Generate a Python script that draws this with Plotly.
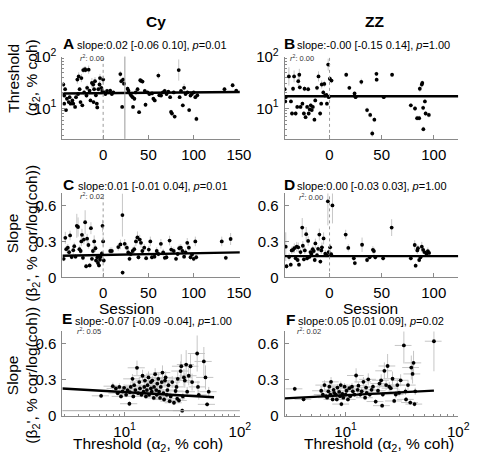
import numpy as np
import plotly.graph_objects as go

W, H = 481, 466
FONT = "Liberation Sans, Arial, Helvetica, sans-serif"
ERR_COLOR = "#c6c6c6"
AX_COLOR = "#8a8a8a"

# ---------------- Panel A : Cy threshold vs session ----------------
a_session = [-44, -43, -42, -43, -40, -41, -38, -37, -36, -34,
             -33, -31, -30, -28.5, -27.7, -27, -26, -25, -24, -23,
             -22, -21, -20, -19.5, -18.4, -17.7, -16, -15, -14, -12.4,
             -11, -10.6, -10, -9, -8, -7, -6.5, -5.3, -4, -3.5,
             -2, -1, 0, 1, 2.5, 4.3, 7.8, 9.6, 11.3,
             19, 20, 21, 22, 23, 27, 28, 30, 31, 32.6,
             33, 34.5, 36, 38, 39.7, 41, 42, 43.5, 46, 46.8,
             49, 51, 54, 55.5, 57, 61, 62, 64, 66, 68,
             70, 72, 74, 75, 76, 78, 79, 83.5, 84.5, 86,
             88, 89.4, 91, 93, 95, 96.5, 98, 100, 101.8, 103,
             104, 134, 143, 147]
a_threshold = [29, 17.7, 23.5, 12.4, 15.4, 9.3, 13.3, 16.5, 12.4, 14.3,
               12.4, 10.7, 16.5, 36, 19, 41.5, 23.5, 13.3, 38.6, 11.5,
               55, 20.4, 57, 55, 17.7, 25, 56, 22, 14.3, 31,
               29, 13.3, 23.5, 33.5, 18, 12.4, 10.5, 23.5, 29, 38.6,
               25, 21.9, 36, 20.4, 19, 21.9, 22, 19, 20.4,
               46, 33.5, 10.7, 36, 30, 24, 22, 19, 17.7, 16.5,
               10.7, 15.4, 20.4, 23.5, 8.5, 35, 34, 33, 21.9, 11.8,
               20.4, 19, 19.5, 15.4, 14.3, 43, 18, 17.7, 20.4, 21.9,
               19, 21, 16.5, 8.6, 8, 20.4, 7, 55, 16.5, 21.9,
               11.5, 25, 19, 20.4, 9.3, 17.7, 19, 20.4, 16.5, 6.3,
               18, 23.5, 28, 22]
a_err_factor = [1.12, 1.08, 1.1, 1.08, 1.1, 1.08, 1.08, 1.1, 1.08, 1.08,
                1.08, 1.08, 1.1, 1.2, 1.1, 1.2, 1.1, 1.08, 1.2, 1.08,
                1.15, 1.1, 1.15, 1.12, 1.1, 1.15, 1.2, 1.1, 1.08, 1.25,
                1.15, 1.08, 1.12, 1.2, 1.1, 1.08, 1.1, 1.12, 1.15, 1.2,
                1.12, 1.1, 1.2, 1.1, 1.08, 1.1, 1.1, 1.08, 1.08,
                1.15, 1.12, 1.08, 1.12, 1.1, 1.1, 1.08, 1.08, 1.08, 1.08,
                1.08, 1.1, 1.08, 1.1, 1.08, 1.1, 1.1, 1.1, 1.1, 1.1,
                1.08, 1.08, 1.08, 1.08, 1.1, 1.15, 1.08, 1.08, 1.08, 1.1,
                1.08, 1.08, 1.08, 1.1, 1.1, 1.08, 1.1, 1.6, 1.08, 1.08,
                1.1, 1.2, 1.08, 1.08, 1.1, 1.08, 1.08, 1.08, 1.1, 1.12,
                1.08, 1.1, 1.1, 1.08]
a_fit = [1.2964, 0.000143]          # log10(threshold) = a0 + a1*session
a_xrange = [-45, 151]
a_event_session = 24

# ---------------- Panel B : ZZ threshold vs session ----------------
b_session = [-43, -42, -42.5, -39, -37, -36, -35, -34, -32.5, -31,
             -30, -29, -28.5, -27.8, -26, -24.6, -24, -23, -21.5, -20.5,
             -20, -19, -18, -17, -16, -14.5, -13.7, -12, -10.6, -9,
             -8, -7.5, -6, -5, -4.4, -3, -2.5, -1.3, -0.8, 0.3,
             1.9, 16, 19, 24, 25, 30.5, 36, 39, 41, 43,
             45, 45.2, 52, 60, 78, 82, 84, 86, 86.6, 88.5,
             89, 89.8, 90, 91.5, 92.2, 95.3]
b_threshold = [23.5, 16.5, 13.7, 41.5, 13.7, 8, 24, 41.5, 8, 10.7,
               33.5, 44.6, 25.6, 10.7, 12.4, 8, 24, 6.8, 10.7, 23.5,
               8, 9.6, 11.5, 9.3, 10.7, 6.1, 14.3, 25, 41.5, 8,
               12.4, 29, 20.4, 29.7, 17.7, 18.3, 12.4, 70, 16.5, 37.4,
               34.4, 44.6, 25, 19.5, 16.5, 32.6, 9.3, 7.5, 3.3, 6.1,
               46.5, 35.9, 16.5, 44.6, 11.5, 10, 6.5, 6.5, 24, 29,
               31, 10.3, 4.0, 13.7, 8, 7.5]
b_err_factor = [1.1, 1.08, 1.08, 1.5, 1.08, 1.1, 1.12, 1.3, 1.1, 1.1,
                1.25, 1.3, 1.12, 1.1, 1.1, 1.1, 1.12, 1.1, 1.1, 1.12,
                1.1, 1.1, 1.1, 1.1, 1.1, 1.1, 1.1, 1.12, 1.25, 1.1,
                1.1, 1.2, 1.1, 1.15, 1.08, 1.08, 1.1, 1.3, 1.08, 1.12,
                1.12, 1.1, 1.1, 1.08, 1.08, 1.15, 1.12, 1.12, 1.15, 1.12,
                1.1, 1.1, 1.08, 1.08, 1.1, 1.12, 1.12, 1.12, 1.15, 1.15,
                1.12, 1.12, 1.12, 1.1, 1.12, 1.12]
b_fit = [1.2355, 0.0]
b_xrange = [-43, 123.5]

# ---------------- Panel C : Cy slope vs session ----------------
c_session = [-43.6, -41.8, -40.8, -39, -37.6, -36.5, -34.8, -33, -31.9, -30.5,
             -29.1, -27.7, -26.2, -24.8, -24.1, -23.4, -22.3, -21.3, -19.9, -18.8,
             -17.7, -16.3, -14.9, -13.5, -12.4, -11.3, -9.9, -8.5, -7.8, -6.4,
             -5.7, -4.6, -3.5, -2.8, -1.4, -0.7, 0, 0.7, 7.8, 9.6,
             16.7, 19.1, 21.3, 21.5, 23.8, 26.2, 27.7, 29.1, 30.5, 32.6,
             34.4, 36.2, 37.9, 39, 40.4, 41.8, 43.3, 45.4, 47.5, 50.4,
             52.1, 53.9, 56.7, 59.2, 61, 63.8, 66.3, 68.1, 69.9, 73.4,
             75.2, 78, 80.5, 82.3, 84, 85.8, 87.6, 89.4, 91.1, 92.9,
             94.7, 96.5, 98.2, 100, 101.8, 102.8, 131, 135.5, 140.8]
c_slope = [0.155, 0.33, 0.235, 0.248, 0.21, 0.35, 0.17, 0.227, 0.26, 0.173,
           0.43, 0.42, 0.235, 0.22, 0.30, 0.355, 0.163, 0.315, 0.46, 0.093,
           0.323, 0.27, 0.10, 0.41, 0.155, 0.22, 0.30, 0.243, 0.141, 0.168,
           0.12, 0.10, 0.147, 0.173, 0.2, 0.43, 0.30, 0.141, 0.22, 0.22,
           0.253, 0.275, 0.52, 0.04, 0.28, 0.248, 0.208, 0.155, 0.195, 0.22,
           0.235, 0.30, 0.333, 0.168, 0.315, 0.288, 0.22, 0.248, 0.16, 0.232,
           0.30, 0.168, 0.173, 0.22, 0.195, 0.28, 0.208, 0.163, 0.168, 0.307,
           0.232, 0.22, 0.155, 0.195, 0.243, 0.248, 0.22, 0.173, 0.208, 0.288,
           0.248, 0.168, 0.19, 0.155, 0.30, 0.168, 0.30, 0.163, 0.32]
c_err = [0.02, 0.05, 0.03, 0.03, 0.03, 0.04, 0.02, 0.03, 0.03, 0.02,
         0.1, 0.08, 0.03, 0.03, 0.04, 0.05, 0.02, 0.04, 0.1, 0.02,
         0.04, 0.03, 0.02, 0.05, 0.02, 0.03, 0.05, 0.03, 0.02, 0.02,
         0.02, 0.02, 0.02, 0.02, 0.02, 0.05, 0.04, 0.02, 0.03, 0.03,
         0.03, 0.04, 0.18, 0.02, 0.04, 0.03, 0.03, 0.02, 0.02, 0.03,
         0.03, 0.04, 0.05, 0.02, 0.04, 0.04, 0.03, 0.03, 0.02, 0.03,
         0.04, 0.02, 0.02, 0.03, 0.02, 0.04, 0.03, 0.02, 0.02, 0.04,
         0.03, 0.03, 0.02, 0.02, 0.03, 0.03, 0.03, 0.02, 0.03, 0.04,
         0.03, 0.02, 0.02, 0.02, 0.04, 0.02, 0.04, 0.02, 0.05]
c_fit = [0.187, 0.000144]

# ---------------- Panel D : ZZ slope vs session ----------------
d_session = [-42, -41.3, -38.8, -37.2, -36.3, -35, -33.8, -32.5, -31.5, -30.6,
             -30, -29.3, -27.8, -26.2, -25.6, -24.6, -23.7, -22.4, -21.5, -20.5,
             -19.2, -18.3, -17.4, -16.1, -15.1, -14.2, -13.6, -12, -11, -9.8,
             -8.8, -7.9, -7.3, -5.7, -4.1, -2.5, -1.6, -0.9, 0.6, 1.6,
             2.8, 15.5, 18, 23.3, 24.3, 31.2, 36, 38.5, 41.6, 42.6,
             43.9, 51.4, 59.6, 78, 81.7, 82.6, 84.2, 84.8, 86, 87.3,
             88.5, 89.8, 91, 93, 94.3, 95.5]
d_slope = [0.256, 0.093, 0.17, 0.106, 0.225, 0.23, 0.243, 0.159, 0.256, 0.145,
           0.251, 0.106, 0.211, 0.415, 0.264, 0.151, 0.225, 0.36, 0.159, 0.304,
           0.172, 0.211, 0.198, 0.235, 0.219, 0.145, 0.283, 0.185, 0.238, 0.357,
           0.132, 0.225, 0.251, 0.325, 0.198, 0.185, 0.634, 0.211, 0.251, 0.193,
           0.6, 0.357, 0.246, 0.159, 0.119, 0.272, 0.145, 0.167, 0.23, 0.219,
           0.167, 0.159, 0.415, 0.159, 0.27, 0.098, 0.225, 0.243, 0.145, 0.167,
           0.256, 0.23, 0.211, 0.198, 0.219, 0.204]
d_err = [0.12, 0.02, 0.03, 0.02, 0.03, 0.03, 0.04, 0.02, 0.04, 0.02,
         0.04, 0.02, 0.03, 0.08, 0.04, 0.02, 0.03, 0.06, 0.02, 0.04,
         0.02, 0.03, 0.03, 0.03, 0.03, 0.02, 0.04, 0.02, 0.03, 0.05,
         0.02, 0.03, 0.04, 0.05, 0.03, 0.02, 0.2, 0.03, 0.03, 0.02,
         0.15, 0.04, 0.03, 0.02, 0.02, 0.06, 0.02, 0.02, 0.03, 0.03,
         0.02, 0.02, 0.07, 0.02, 0.04, 0.02, 0.03, 0.03, 0.02, 0.02,
         0.04, 0.03, 0.03, 0.02, 0.03, 0.02]
d_fit = [0.177, 0.0]

# ---------------- Panel E : Cy slope vs threshold ----------------
e_threshold = [6.25, 7.9, 8.4, 8.7, 9.0, 9.3, 9.6, 9.9, 10.3, 10.6,
               11, 11.1, 11.3, 11.7, 11.9, 12.1, 12.4, 12.8, 13.1, 13.4,
               13.6, 14, 14.3, 14.6, 14.8, 15, 15.3, 15.6, 15.8, 16.1,
               16.3, 16.9, 16.9, 17.2, 17.4, 17.9, 18, 18.4, 18.8, 19,
               19.2, 19.6, 19.9, 20.3, 20.6, 21, 21.3, 21.7, 22, 22.4,
               22.7, 23.2, 23.5, 24, 24.6, 25.1, 25.9, 26.8, 27.7, 28.2,
               28.6, 28.9, 29.6, 30.6, 31, 31.6, 32, 32.7, 33.3, 34.2,
               34.9, 36, 37.3, 38.5, 42.6, 43.3, 44, 48.7, 50.3, 52,
               53.7]
e_slope = [0.164, 0.244, 0.225, 0.186, 0.238, 0.159, 0.2, 0.23, 0.172, 0.212,
           0.098, 0.194, 0.238, 0.305, 0.159, 0.252, 0.212, 0.397, 0.186, 0.278,
           0.225, 0.172, 0.331, 0.198, 0.238, 0.291, 0.159, 0.212, 0.252, 0.317,
           0.172, 0.278, 0.225, 0.198, 0.291, 0.146, 0.238, 0.344, 0.212, 0.172,
           0.265, 0.305, 0.198, 0.146, 0.238, 0.278, 0.357, 0.186, 0.133, 0.291,
           0.317, 0.172, 0.212, 0.252, 0.119, 0.159, 0.278, 0.106, 0.204, 0.238,
           0.14, 0.305, 0.125, 0.37, 0.41, 0.04, 0.159, 0.317, 0.291, 0.424,
           0.198, 0.331, 0.41, 0.278, 0.516, 0.238, 0.172, 0.45, 0.317, 0.093,
           0.198]
e_yerr = [0.02, 0.03, 0.03, 0.02, 0.03, 0.02, 0.03, 0.03, 0.02, 0.03,
          0.02, 0.02, 0.03, 0.04, 0.02, 0.03, 0.03, 0.06, 0.02, 0.04,
          0.03, 0.02, 0.05, 0.03, 0.03, 0.04, 0.02, 0.03, 0.03, 0.05,
          0.02, 0.04, 0.03, 0.03, 0.04, 0.02, 0.03, 0.05, 0.03, 0.02,
          0.04, 0.05, 0.03, 0.02, 0.03, 0.04, 0.06, 0.03, 0.02, 0.05,
          0.05, 0.03, 0.03, 0.04, 0.02, 0.03, 0.05, 0.02, 0.03, 0.04,
          0.02, 0.06, 0.02, 0.08, 0.1, 0.02, 0.03, 0.07, 0.06, 0.12,
          0.04, 0.08, 0.1, 0.07, 0.15, 0.05, 0.04, 0.12, 0.1, 0.02,
          0.04]
e_fit = [0.25, -0.055]               # slope = a0 + a1*log10(threshold)
e_line_x = [2.88, 59.7]
e_floor = 0.04

# ---------------- Panel F : ZZ slope vs threshold ----------------
f_threshold = [3.54, 4.24, 6.08, 6.29, 6.5, 6.72, 6.86, 7.04, 7.18, 7.33,
               7.43, 7.68, 7.83, 7.93, 8.2, 8.36, 8.47, 8.77, 8.93, 9.06,
               9.18, 9.36, 9.55, 9.8, 10, 10.2, 10.5, 10.8, 11, 11.4,
               11.6, 12, 12.4, 12.8, 13, 13.5, 13.9, 14.4, 14.9, 15.2,
               15.4, 15.9, 16.4, 17, 17.5, 18.5, 19.4, 20, 20.7, 21.1,
               21.4, 22.1, 22.9, 23.6, 24.4, 25.2, 26.1, 27, 27.9, 28.8,
               29.8, 30.8, 32.9, 34, 34.4, 35.8, 37.5, 38.3, 39.3, 40.1,
               40.9, 41.5, 60.8]
f_slope = [0.222, 0.135, 0.206, 0.174, 0.253, 0.161, 0.148, 0.201, 0.24, 0.174,
           0.28, 0.134, 0.214, 0.188, 0.174, 0.134, 0.232, 0.196, 0.161, 0.253,
           0.095, 0.18, 0.148, 0.24, 0.174, 0.206, 0.134, 0.227, 0.161, 0.24,
           0.201, 0.174, 0.333, 0.214, 0.248, 0.174, 0.201, 0.28, 0.148, 0.232,
           0.188, 0.301, 0.174, 0.214, 0.24, 0.116, 0.206, 0.266, 0.293, 0.082,
           0.174, 0.372, 0.253, 0.412, 0.24, 0.227, 0.306, 0.121, 0.174, 0.253,
           0.188, 0.293, 0.583, 0.201, 0.134, 0.253, 0.108, 0.399, 0.346, 0.438,
           0.095, 0.201, 0.618]
f_yerr = [0.02, 0.02, 0.03, 0.02, 0.04, 0.02, 0.02, 0.03, 0.04, 0.02,
          0.04, 0.02, 0.03, 0.02, 0.02, 0.02, 0.03, 0.03, 0.02, 0.03,
          0.02, 0.02, 0.02, 0.03, 0.02, 0.03, 0.02, 0.03, 0.02, 0.03,
          0.03, 0.02, 0.06, 0.03, 0.03, 0.02, 0.03, 0.04, 0.02, 0.03,
          0.02, 0.05, 0.02, 0.03, 0.03, 0.02, 0.03, 0.04, 0.05, 0.02,
          0.02, 0.07, 0.04, 0.1, 0.04, 0.03, 0.06, 0.02, 0.03, 0.05,
          0.03, 0.05, 0.15, 0.03, 0.02, 0.04, 0.02, 0.1, 0.08, 0.1,
          0.02, 0.03, 0.25]
f_fit = [0.12, 0.049]
f_line_x = [2.88, 60.8]

# ---------------- text / ticks ----------------
col_titles = ["Cy", "ZZ"]
panel_letters = ["A", "B", "C", "D", "E", "F"]
slope_texts = ["slope:0.02 [-0.06 0.10], <i>p</i>=0.01",
               "slope:-0.00 [-0.15 0.14], <i>p</i>=1.00",
               "slope:0.01 [-0.01 0.04], <i>p</i>=0.01",
               "slope:0.00 [-0.03 0.03], <i>p</i>=1.00",
               "slope:-0.07 [-0.09 -0.04], <i>p</i>=1.00",
               "slope:0.05 [0.01 0.09], <i>p</i>=0.02"]
r2_values = ["0.00", "0.00", "0.02", "0.00", "0.05", "0.02"]
session_ticks_a = [0, 50, 100, 150]
session_ticks_b = [0, 50, 100]
log_ticks = [10, 100]
log_ticklabels = ["10<sup>1</sup>", "10<sup>2</sup>"]
log_minor_ticks = [3, 4, 5, 6, 7, 8, 9, 20, 30, 40, 50, 60, 70, 80, 90]
slope_ticks = [0, 0.3, 0.6]
slope_ticklabels = ["0", "0.3", "0.6"]
session_zero = 0

# ---------------- layout geometry (pixels) ----------------
def px(x):
    return x / W

def py(y):
    return 1 - y / H

col_px = [(64, 246), (292, 470)]
row_px = [(47.5, 133.3), (190.2, 277.7), (334, 421.7)]

fig = go.Figure()


def add_points(k, x, y, ey=None, ey_minus=None, ex_pct=None):
    tr = dict(x=x, y=y, mode="markers", xaxis="x%d" % k, yaxis="y%d" % k,
              marker=dict(color="black", size=3.8), showlegend=False,
              hoverinfo="skip")
    if ey is not None:
        d = dict(type="data", array=ey, color=ERR_COLOR, thickness=1, width=0, visible=True)
        if ey_minus is not None:
            d["symmetric"] = False
            d["arrayminus"] = ey_minus
        tr["error_y"] = d
    if ex_pct is not None:
        tr["error_x"] = dict(type="percent", value=ex_pct, color=ERR_COLOR,
                             thickness=1, width=0, visible=True)
    fig.add_trace(go.Scatter(**tr))


def add_line(k, x, y):
    fig.add_trace(go.Scatter(x=x, y=y, mode="lines", xaxis="x%d" % k, yaxis="y%d" % k,
                             line=dict(color="black", width=2.4), showlegend=False,
                             hoverinfo="skip"))


# A
a_f = np.array(a_err_factor)
a_t = np.array(a_threshold)
add_points(1, a_session, a_threshold, list(a_t * (a_f - 1)), list(a_t * (1 - 1 / a_f)))
ax = np.array(a_xrange, dtype=float)
add_line(1, ax, 10 ** (a_fit[0] + a_fit[1] * ax))
# B
b_f = np.array(b_err_factor)
b_t = np.array(b_threshold)
add_points(2, b_session, b_threshold, list(b_t * (b_f - 1)), list(b_t * (1 - 1 / b_f)))
bx = np.array(b_xrange, dtype=float)
add_line(2, bx, 10 ** (b_fit[0] + b_fit[1] * bx))
# C
add_points(3, c_session, c_slope, c_err)
add_line(3, ax, c_fit[0] + c_fit[1] * ax)
# D
add_points(4, d_session, d_slope, d_err)
add_line(4, bx, d_fit[0] + d_fit[1] * bx)
# E
add_points(5, e_threshold, e_slope, e_yerr, None, 17)
ex = np.array(e_line_x)
add_line(5, ex, e_fit[0] + e_fit[1] * np.log10(ex))
# F
add_points(6, f_threshold, f_slope, f_yerr, None, 17)
fx = np.array(f_line_x)
add_line(6, fx, f_fit[0] + f_fit[1] * np.log10(fx))

tickfont = dict(family=FONT, size=15, color="black")


def axis_common():
    return dict(showline=True, linecolor=AX_COLOR, linewidth=1, ticks="inside",
                ticklen=4, tickcolor=AX_COLOR, tickwidth=1, showgrid=False,
                zeroline=False, tickfont=tickfont, mirror=False, fixedrange=True)


minor_log = dict(tickvals=log_minor_ticks, ticks="inside", ticklen=2,
                 tickcolor=AX_COLOR, showgrid=False)

layout = dict(width=W, height=H, autosize=False, margin=dict(l=0, r=0, t=0, b=0, pad=0),
              paper_bgcolor="white", plot_bgcolor="white", showlegend=False,
              font=dict(family=FONT, color="black"))

specs = [
    (1, 0, 0, "linear", a_xrange, session_ticks_a, None, "log", [0.415, 2.0], log_ticks, log_ticklabels),
    (2, 1, 0, "linear", b_xrange, session_ticks_b, None, "log", [0.415, 2.0], log_ticks, log_ticklabels),
    (3, 0, 1, "linear", a_xrange, session_ticks_a, None, "linear", [0, 0.7], slope_ticks, slope_ticklabels),
    (4, 1, 1, "linear", b_xrange, session_ticks_b, None, "linear", [0, 0.7], slope_ticks, slope_ticklabels),
    (5, 0, 2, "log", [0.46, 2.0], log_ticks, log_ticklabels, "linear", [0, 0.7], slope_ticks, slope_ticklabels),
    (6, 1, 2, "log", [0.46, 2.0], log_ticks, log_ticklabels, "linear", [0, 0.7], slope_ticks, slope_ticklabels),
]
for k, c, r, xt, xr, xtv, xtt, yt, yr, ytv, ytt in specs:
    xa = axis_common()
    xa.update(type=xt, range=xr, tickvals=xtv, domain=[px(col_px[c][0]), px(col_px[c][1])],
              anchor="y%d" % k, ticklabelstandoff=2)
    if xtt is not None:
        xa["ticktext"] = xtt
    if xt == "log":
        xa["minor"] = minor_log
    ya = axis_common()
    ya.update(type=yt, range=yr, tickvals=ytv, ticktext=ytt,
              domain=[py(row_px[r][1]), py(row_px[r][0])], anchor="x%d" % k,
              ticklabelstandoff=2)
    if yt == "log":
        ya["minor"] = minor_log
    layout["xaxis" if k == 1 else "xaxis%d" % k] = xa
    layout["yaxis" if k == 1 else "yaxis%d" % k] = ya

fig.update_layout(**layout)

# reference lines
shapes = []
for k in [1, 2, 3, 4]:
    xr = "x" if k == 1 else "x%d" % k
    yr = "y domain" if k == 1 else "y%d domain" % k
    shapes.append(dict(type="line", xref=xr, yref=yr, x0=session_zero, x1=session_zero,
                       y0=0, y1=1, line=dict(color="#9a9a9a", width=1, dash="dot")))
shapes.append(dict(type="line", xref="x", yref="y domain", x0=a_event_session, x1=a_event_session,
                   y0=0, y1=1, line=dict(color="#9a9a9a", width=1)))
shapes.append(dict(type="line", xref="x5 domain", yref="y5", x0=0, x1=1, y0=e_floor, y1=e_floor,
                   line=dict(color="#a8a8a8", width=1)))
fig.update_layout(shapes=shapes)

anns = []


def ann(text, x, y, size, xanchor="left", bold=False, color="black", angle=0, yanchor="middle"):
    if bold:
        text = "<b>%s</b>" % text
    anns.append(dict(text=text, x=px(x), y=py(y), xref="paper", yref="paper",
                     showarrow=False, xanchor=xanchor, yanchor=yanchor, textangle=angle,
                     font=dict(family=FONT, size=size, color=color)))


ann(col_titles[0], 160, 11, 15.5, "center", True)
ann(col_titles[1], 384, 11, 15.5, "center", True)

letter_pos = [(63, 34), (289, 34), (63, 181), (289, 181), (62, 321), (291, 322)]
text_pos = [(77, 35), (303, 35), (78, 182), (303, 182), (75, 323), (304, 323)]
r2_pos = [(80, 49), (295, 49), (80, 193), (305, 194), (77, 334), (303, 334)]
for i in range(6):
    ann(panel_letters[i], letter_pos[i][0], letter_pos[i][1], 15.5, "left", True)
    ann(slope_texts[i], text_pos[i][0], text_pos[i][1], 11, "left")
    ann("<i>r</i><sup>2</sup>: " + r2_values[i], r2_pos[i][0], r2_pos[i][1], 7.5, "left", color="#333333")

# y titles
ann("Threshold", 13, 70, 15.5, "center", angle=-90)
ann("(α<sub>2</sub>, % coh)", 33, 70, 15.5, "center", angle=-90)
ann("Slope", 13, 232, 15.5, "center", angle=-90)
ann("(β<sub>2</sub>', % cor/log(coh))", 33, 232, 15.5, "center", angle=-90)
ann("Slope", 13, 380, 15.5, "center", angle=-90)
ann("(β<sub>2</sub>', % cor/log(coh))", 33, 380, 15.5, "center", angle=-90)
# x titles
ann("Session", 130, 310, 15.5, "center")
ann("Session", 380, 310, 15.5, "center")
ann("Threshold (α<sub>2</sub>, % coh)", 152, 452, 15.5, "center")
ann("Threshold (α<sub>2</sub>, % coh)", 389, 452, 15.5, "center")

fig.update_layout(annotations=anns)
fig.write_html("out.html", config={"responsive": False, "displayModeBar": False},
               post_script="document.body.style.margin='0px';document.body.style.overflow='hidden';")
